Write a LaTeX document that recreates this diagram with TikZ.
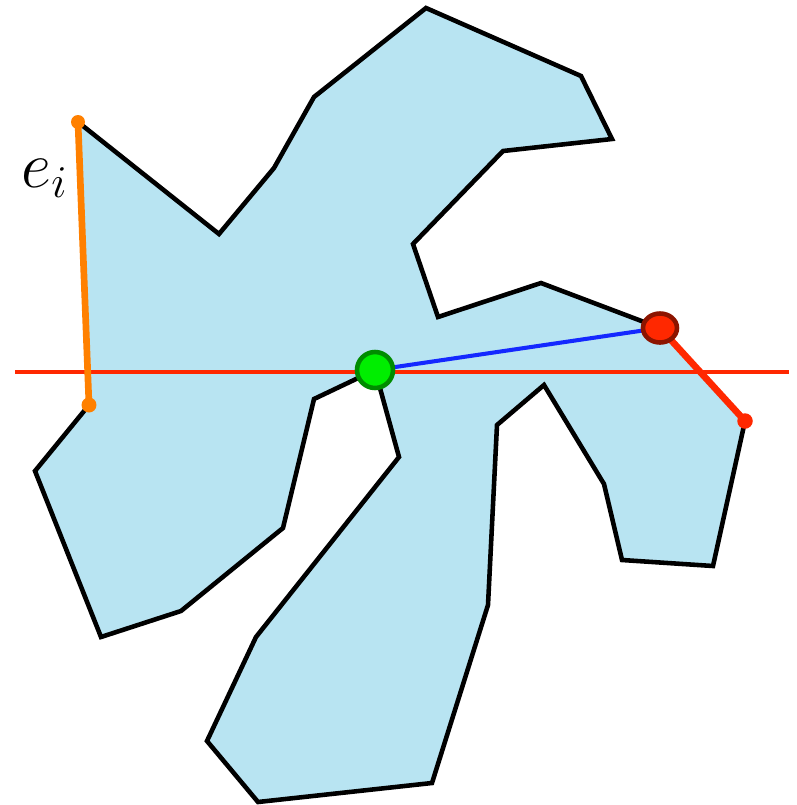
\documentclass[tikz,border=0pt]{standalone}
\usepackage{tikz}
\usetikzlibrary{shapes.geometric}
\definecolor{polyfill}{RGB}{184,228,242}
\definecolor{edgeorange}{RGB}{255,128,0}
\definecolor{rayred}{RGB}{255,40,0}
\definecolor{darkred}{RGB}{140,20,0}
\definecolor{pgreen}{RGB}{0,238,0}
\definecolor{dgreen}{RGB}{0,140,0}
\definecolor{segblue}{RGB}{20,40,255}
\begin{document}
\begin{tikzpicture}[x=0.02cm,y=-0.02cm,line join=miter,
    outline/.style={draw=black,line width=2.6pt,fill=polyfill},
    dot/.style={circle,inner sep=0pt}]
    \useasboundingbox (0,0) rectangle (797,805);
    % polygon vertices
    \coordinate (ea) at (78,122);
    \coordinate (eb) at (89,405);
    \coordinate (q) at (660,328);
    \coordinate (r) at (745,421);
    \coordinate (p) at (375,370);
    \draw[outline] (ea) -- (219,234) -- (274,168) -- (314,97) -- (426,8) -- (581,76)
        -- (612,139) -- (503,151) -- (413,244) -- (438,317) -- (541,283) -- (q)
        -- (r) -- (713,566) -- (622,560) -- (604,484) -- (544,385) -- (497,425)
        -- (488,605) -- (432,783) -- (258,802) -- (207,741) -- (256,637) -- (399,457)
        -- (p) -- (314,399) -- (283,528) -- (181,611) -- (101,637) -- (35,471)
        -- (eb) -- cycle;
    % horizontal line
    \coordinate (hl) at (15,372);
    \coordinate (hr) at (789,372);
    \draw[rayred,line width=2.2pt] (hl) -- (hr);
    % edge e_i
    \draw[edgeorange,line width=3.8pt] (ea) -- (eb);
    \node[dot,fill=edgeorange,minimum size=0.28cm] (ea dot) at (ea) {};
    \node[dot,fill=edgeorange,minimum size=0.30cm] (eb dot) at (eb) {};
    \node[scale=1.8] (ei) at (45,178) {\huge$e_i$};
    % red edge
    \draw[rayred,line width=3.8pt] (q) -- (r);
    \node[dot,fill=rayred,minimum size=0.31cm] (r dot) at (r) {};
    % visible segment
    \draw[segblue,line width=2.3pt] (p) -- (q);
    \node[dot,fill=pgreen,draw=dgreen,line width=2.6pt,minimum size=0.72cm] (p dot) at (p) {};
    \node[ellipse,inner sep=0pt,fill=rayred,draw=darkred,line width=2.6pt,minimum width=0.68cm,minimum height=0.58cm] (q dot) at (q) {};
\end{tikzpicture}
\end{document}
